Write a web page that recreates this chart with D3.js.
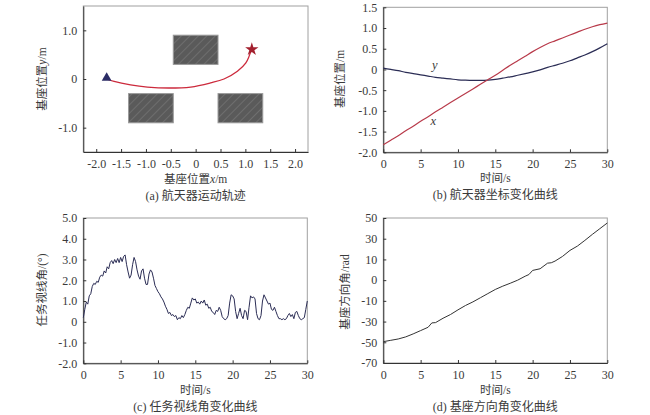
<!DOCTYPE html>
<html><head><meta charset="utf-8">
<script src="https://cdn.jsdelivr.net/npm/d3@7"></script>
<style>
body{margin:0;background:#fff}
svg text{font-family:"Liberation Serif","Times New Roman","DejaVu Serif","Noto Sans CJK SC",serif !important;fill:#3a3a3a}
</style></head><body>
<svg id="fig" width="650" height="415"></svg>
<script>
// (a) trajectory + obstacles
const trajX = [-1.79, -1.64, -1.31, -0.97, -0.54, -0.10, 0.30, 0.57, 0.84, 1.01, 1.13];
const trajY = [0.0, -0.05, -0.12, -0.165, -0.185, -0.165, -0.08, 0.0, 0.16, 0.33, 0.63];
const obsX0 = [-0.45, -1.35, 0.45];
const obsX1 = [0.45, -0.45, 1.35];
const obsY0 = [0.3, -0.9, -0.9];
const obsY1 = [0.9, -0.3, -0.3];
const ticksAX = [-2.0, -1.5, -1.0, -0.5, 0, 0.5, 1.0, 1.5, 2.0];
const ticksAY = [-1.0, 0, 1.0];

// (b) base position vs time
const timeB = d3.range(0, 31);
const posX = [-1.82, -1.71, -1.60, -1.48, -1.37, -1.25, -1.14, -1.02, -0.91, -0.80, -0.69,
  -0.58, -0.47, -0.36, -0.25, -0.14, -0.02, 0.10, 0.21, 0.32, 0.43,
  0.53, 0.62, 0.69, 0.76, 0.83, 0.90, 0.97, 1.03, 1.08, 1.12];
const posY = [0.03, 0.0, -0.03, -0.07, -0.10, -0.13, -0.16, -0.19, -0.21, -0.23, -0.25,
  -0.26, -0.265, -0.265, -0.26, -0.24, -0.21, -0.18, -0.14, -0.10, -0.06,
  -0.01, 0.05, 0.10, 0.15, 0.21, 0.28, 0.35, 0.43, 0.52, 0.62];
const ticksBY = [-2.0, -1.5, -1.0, -0.5, 0, 0.5, 1.0, 1.5];
const ticksT = [0, 5, 10, 15, 20, 25, 30];

// (c) line-of-sight angle, sampled every 0.2 s
const timeC = d3.range(0, 151).map(i => i * 0.2);
const losAngle = [
  0.2, 0.6, 0.95, 0.85, 1.25, 1.35, 1.7, 1.85, 1.8, 1.95,
  1.9, 2.15, 2.25, 2.2, 2.45, 2.35, 2.65, 2.55, 2.85, 2.95,
  2.8, 3.0, 2.85, 3.05, 2.85, 3.1, 2.9, 3.15, 3.22, 2.75,
  2.4, 2.1, 2.25, 2.75, 3.1, 2.9, 2.5, 2.2, 2.05, 2.45,
  2.55, 2.1, 1.8, 1.8, 2.3, 2.5, 2.4, 2.1, 1.75, 1.6,
  1.45, 1.35, 1.2, 1.1, 0.95, 0.75, 0.6, 0.4, 0.45, 0.3,
  0.35, 0.25, 0.3, 0.1, 0.2, 0.15, 0.3, 0.2, 0.35, 0.55,
  0.7, 0.65, 0.9, 1.15, 1.05, 1.1, 0.9, 0.95, 0.85, 1.0,
  0.9, 1.05, 0.8, 0.85, 0.65, 0.7, 0.5, 0.45, 0.35, 0.55,
  0.5, 0.7, 0.55, 0.25, 0.15, 0.1, 0.15, 0.3, 0.9, 1.3,
  1.25, 1.1, 0.5, 0.15, 0.4, 0.65, 0.3, 0.15, 0.55, 0.5,
  0.1, 0.7, 1.25, 1.15, 1.2, 1.1, 0.4, 0.15, 0.1, 0.3,
  1.0, 1.3, 1.15, 1.0, 0.85, 0.9, 0.6, 0.55, 0.7, 0.5,
  0.3, 0.15, 0.15, 0.1, 0.15, 0.1, 0.15, 0.3, 0.4, 0.25,
  0.35, 0.15, 0.45, 0.5, 0.3, 0.15, 0.1, 0.15, 0.2, 0.6,
  1.0];
const ticksCY = [-2.0, -1.0, 0, 1.0, 2.0, 3.0, 4.0, 5.0];

// (d) base orientation angle
const timeD = [0, 1, 2, 3, 4, 5, 6, 6.5, 7, 8, 9, 10, 11, 12, 13, 14, 15, 16, 17, 18,
  19, 19.5, 20, 21, 22, 22.5, 23, 24, 25, 26, 27, 28, 29, 30];
const baseAngle = [-49.4, -48.1, -46.8, -44.8, -41.9, -38.7, -35.5, -31.3, -31.0, -26.8,
  -23.2, -18.7, -14.5, -11.0, -8.5, -6.5, -4.5, -2.9, -1.5, 0,
  1.9, 2.7, 4.7, 5.5, 8.2, 8.4, 9.2, 12.9, 18.7, 22.9, 28.4, 34.2, 39.7, 45.2];
const ticksDY = [-70, -50, -30, -10, 0, 10, 30, 50];

const FONT = '"Liberation Serif","Times New Roman","DejaVu Serif","Noto Sans CJK SC",serif';
const svg = d3.select("#fig");

const fmt1 = d => d === 0 ? "0" : d.toFixed(1);

function panel(box, x, y, xt, yt, xf, yf) {
  const g = svg.append("g").attr("transform", `translate(${box.l},${box.t})`);
  const w = box.r - box.l, h = box.b - box.t;
  g.append("rect").attr("width", w).attr("height", h)
    .attr("fill", "none").attr("stroke", "#a0a0a0").attr("stroke-width", 1);
  const ax = g.append("g").attr("transform", `translate(0,${h})`)
    .call(d3.axisBottom(x).tickValues(xt).tickFormat(xf).tickSizeInner(-3).tickSizeOuter(0).tickPadding(7));
  const ay = g.append("g")
    .call(d3.axisLeft(y).tickValues(yt).tickFormat(yf).tickSizeInner(-3).tickSizeOuter(0).tickPadding(6));
  [ax, ay].forEach(a => {
    a.attr("font-family", FONT);
    a.select(".domain").attr("stroke", "#333");
    a.selectAll(".tick line").attr("stroke", "#333");
    a.selectAll("text").style("font-size", "12px").style("font-family", FONT).attr("fill", "#444");
  });
  return g;
}

function labels(cx, xl, cap, yx, yc, yl, ytop) {
  svg.append("text").attr("x", cx).attr("y", ytop).attr("text-anchor", "middle")
    .style("font-family", FONT).style("font-size", "11.5px").html(xl);
  svg.append("text").attr("x", cx).attr("y", ytop + 17).attr("text-anchor", "middle")
    .style("font-family", FONT).style("font-size", "12px").text(cap);
  svg.append("text").attr("transform", `translate(${yx},${yc}) rotate(-90)`)
    .attr("text-anchor", "middle").attr("dy", "0.35em")
    .style("font-family", FONT).style("font-size", "11.5px").html(yl);
}

// hatch pattern for obstacles
const defs = svg.append("defs");
const pat = defs.append("pattern").attr("id", "hatch").attr("patternUnits", "userSpaceOnUse")
  .attr("width", 6).attr("height", 6).attr("patternTransform", "rotate(45)");
pat.append("rect").attr("width", 6).attr("height", 6).attr("fill", "#5a5a5a");
pat.append("line").attr("x1", 0).attr("y1", 0).attr("x2", 0).attr("y2", 6)
  .attr("stroke", "#7c7c7c").attr("stroke-width", 1.2);

// ---- (a)
const boxA = {l: 83.3, r: 308, t: 6, b: 152};
const xA = d3.scaleLinear().domain([-2.26, 2.26]).range([0, boxA.r - boxA.l]);
const yA = d3.scaleLinear().domain([-1.5, 1.5]).range([boxA.b - boxA.t, 0]);
const gA = panel(boxA, xA, yA, ticksAX, ticksAY, fmt1, fmt1);
gA.selectAll(".obs").data(obsX0).join("rect")
  .attr("x", (d, i) => xA(obsX0[i])).attr("y", (d, i) => yA(obsY1[i]))
  .attr("width", (d, i) => xA(obsX1[i]) - xA(obsX0[i]))
  .attr("height", (d, i) => yA(obsY0[i]) - yA(obsY1[i]))
  .attr("fill", "url(#hatch)").attr("stroke", "#9a9a9a").attr("stroke-width", 1);
gA.append("path").datum(d3.zip(trajX, trajY))
  .attr("d", d3.line().x(d => xA(d[0])).y(d => yA(d[1])).curve(d3.curveCatmullRom))
  .attr("fill", "none").attr("stroke", "#cc2a3c").attr("stroke-width", 1.3);
gA.append("path").attr("d", d3.symbol(d3.symbolTriangle, 42)())
  .attr("transform", `translate(${xA(trajX[0])},${yA(trajY[0]) - 1})`).attr("fill", "#2b2d66");
gA.append("path").attr("d", d3.symbol(d3.symbolStar, 55)())
  .attr("transform", `translate(${xA(trajX[trajX.length - 1])},${yA(trajY[trajY.length - 1]) + 1})`)
  .attr("fill", "#a3202e");
labels((boxA.l + boxA.r) / 2, "基座位置<tspan font-style='italic'>x</tspan>/m", "(a) 航天器运动轨迹",
  42, 79, "基座位置<tspan font-style='italic'>y</tspan>/m", 183);

// ---- (b)
const boxB = {l: 383.3, r: 607.3, t: 7.3, b: 152.3};
const xB = d3.scaleLinear().domain([0, 30]).range([0, boxB.r - boxB.l]);
const yB = d3.scaleLinear().domain([-2.0, 1.5]).range([boxB.b - boxB.t, 0]);
const gB = panel(boxB, xB, yB, ticksT, ticksBY, d => d, fmt1);
gB.append("path").datum(d3.zip(timeB, posY))
  .attr("d", d3.line().x(d => xB(d[0])).y(d => yB(d[1])).curve(d3.curveMonotoneX))
  .attr("fill", "none").attr("stroke", "#2b2d55").attr("stroke-width", 1.2);
gB.append("path").datum(d3.zip(timeB, posX))
  .attr("d", d3.line().x(d => xB(d[0])).y(d => yB(d[1])).curve(d3.curveMonotoneX))
  .attr("fill", "none").attr("stroke", "#b83a4a").attr("stroke-width", 1.2);
gB.append("text").attr("x", xB(6.9)).attr("y", yB(0.0)).attr("text-anchor", "middle")
  .style("font-family", FONT).style("font-size", "12.5px").style("font-style", "italic")
  .attr("fill", "#2b2d55").text("y");
gB.append("text").attr("x", xB(6.7)).attr("y", yB(-1.34)).attr("text-anchor", "middle")
  .style("font-family", FONT).style("font-size", "12.5px").style("font-style", "italic")
  .attr("fill", "#b83a4a").text("x");
labels((boxB.l + boxB.r) / 2, "时间/s", "(b) 航天器坐标变化曲线", 340, 79, "基座位置/m", 182);

// ---- (c)
const boxC = {l: 83.3, r: 307.3, t: 218, b: 363.3};
const xC = d3.scaleLinear().domain([0, 30]).range([0, boxC.r - boxC.l]);
const yC = d3.scaleLinear().domain([-2.0, 5.0]).range([boxC.b - boxC.t, 0]);
const gC = panel(boxC, xC, yC, ticksT, ticksCY, d => d, fmt1);
gC.append("path").datum(d3.zip(timeC, losAngle))
  .attr("d", d3.line().x(d => xC(d[0])).y(d => yC(d[1])))
  .attr("fill", "none").attr("stroke", "#2b2d55").attr("stroke-width", 1);
labels((boxC.l + boxC.r) / 2, "时间/s", "(c) 任务视线角变化曲线", 42, 290, "任务视线角/(°)", 394);

// ---- (d) tick labels are unevenly spaced in value, evenly in position
const boxD = {l: 383.3, r: 607.3, t: 218, b: 363};
const hD = boxD.b - boxD.t;
const xD = d3.scaleLinear().domain([0, 30]).range([0, boxD.r - boxD.l]);
const yD = d3.scaleLinear().domain(ticksDY).range(ticksDY.map((d, i) => hD - i * hD / (ticksDY.length - 1)));
const gD = panel(boxD, xD, yD, ticksT, ticksDY, d => d, d => d);
gD.append("path").datum(d3.zip(timeD, baseAngle))
  .attr("d", d3.line().x(d => xD(d[0])).y(d => yD(d[1])))
  .attr("fill", "none").attr("stroke", "#333").attr("stroke-width", 1);
labels((boxD.l + boxD.r) / 2, "时间/s", "(d) 基座方向角变化曲线", 345, 292, "基座方向角/rad", 394);
</script>
</body></html>
